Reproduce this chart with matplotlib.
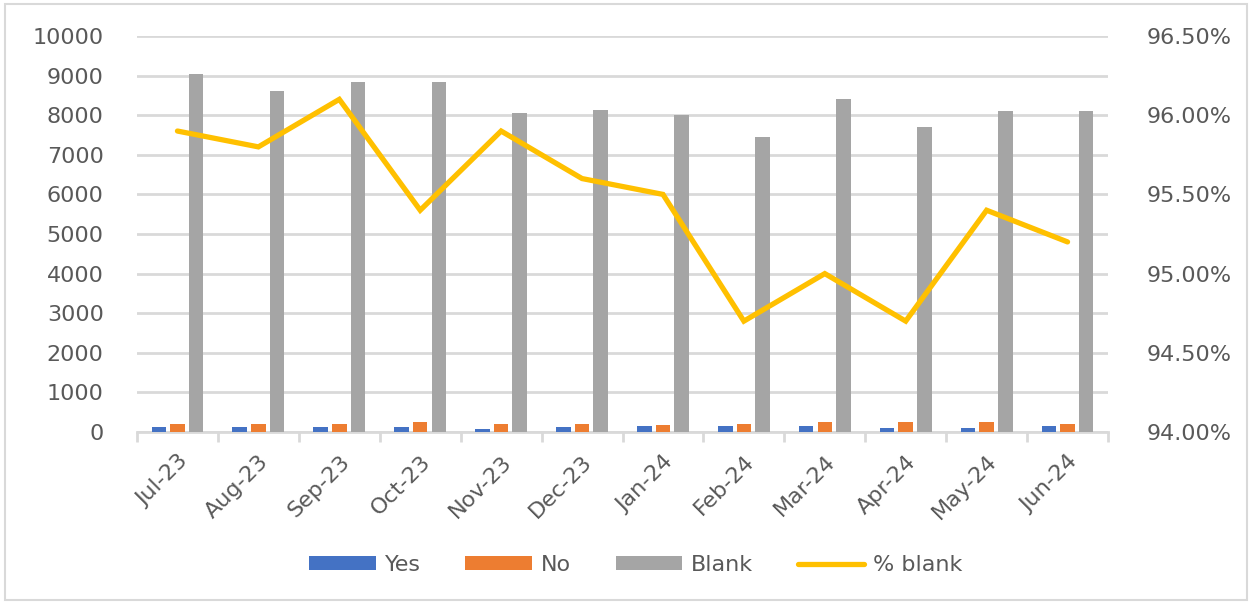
import matplotlib.pyplot as plt
import numpy as np
from matplotlib.ticker import FuncFormatter, MultipleLocator

months = ['Jul-23', 'Aug-23', 'Sep-23', 'Oct-23', 'Nov-23', 'Dec-23',
          'Jan-24', 'Feb-24', 'Mar-24', 'Apr-24', 'May-24', 'Jun-24']
yes = [120, 120, 120, 120, 80, 120, 140, 140, 140, 110, 110, 140]
no = [210, 210, 210, 250, 190, 190, 180, 210, 250, 250, 250, 210]
blank = [9030, 8600, 8830, 8840, 8050, 8130, 8000, 7450, 8400, 7700, 8100, 8100]
pct_blank = [95.90, 95.80, 96.10, 95.40, 95.90, 95.60, 95.50, 94.70, 95.00, 94.70, 95.40, 95.20]

grey_txt = '#595959'
grid_c = '#d9d9d9'
fs = 16

fig = plt.figure(figsize=(12.52, 6.04), dpi=100)
ax = fig.add_axes([137 / 1252, 1 - 432 / 604, (1108 - 137) / 1252, (432 - 36) / 604])
ax2 = ax.twinx()

x = np.arange(len(months))
w = 0.18
step = 0.23
ax.bar(x - step, yes, w, color='#4472C4', label='Yes', zorder=3)
ax.bar(x, no, w, color='#ED7D31', label='No', zorder=3)
ax.bar(x + step, blank, w, color='#A5A5A5', label='Blank', zorder=3)
ax2.plot(x, pct_blank, color='#FFC000', linewidth=3.8, label='% blank',
         solid_joinstyle='miter', solid_capstyle='round')

ax.set_xlim(-0.5, len(months) - 0.5)
ax.set_ylim(0, 10000)
ax.yaxis.set_major_locator(MultipleLocator(1000))
ax.grid(axis='y', color=grid_c, linewidth=2, zorder=0)
ax.set_axisbelow(True)

ax2.set_ylim(94.0, 96.5)
ax2.yaxis.set_major_locator(MultipleLocator(0.5))
ax2.yaxis.set_major_formatter(FuncFormatter(lambda v, p: f'{v:.2f}%'))

for a in (ax, ax2):
    for s in ('top', 'left', 'right', 'bottom'):
        a.spines[s].set_visible(False)
ax.spines['bottom'].set_visible(True)
ax.spines['bottom'].set_color(grid_c)
ax.spines['bottom'].set_linewidth(2)

ax.set_xticks(x)
ax.set_xticklabels(months, rotation=45, ha='right', rotation_mode='anchor',
                   fontsize=fs, color=grey_txt)
ax.set_xticks(np.arange(len(months) + 1) - 0.5, minor=True)
ax.tick_params(axis='x', which='major', length=0, pad=14)
ax.tick_params(axis='x', which='minor', length=7, width=2, color=grid_c)
ax.tick_params(axis='y', length=0, pad=24, labelsize=fs, labelcolor=grey_txt)
ax2.tick_params(axis='y', length=0, pad=28, labelsize=fs, labelcolor=grey_txt)

h1, l1 = ax.get_legend_handles_labels()
h2, l2 = ax2.get_legend_handles_labels()
fig.legend(h1 + h2, l1 + l2, loc='center', bbox_to_anchor=(0.508, 1 - 565 / 604),
           ncol=4, frameon=False, fontsize=fs, labelcolor=grey_txt,
           handlelength=3.0, handleheight=0.6, handletextpad=0.4, columnspacing=2.0)

border = plt.Rectangle((0.004, 0.006), 0.992, 0.988, transform=fig.transFigure,
                       fill=False, edgecolor=grid_c, linewidth=1.5)
fig.patches.append(border)

fig.savefig('out.png', dpi=100)
